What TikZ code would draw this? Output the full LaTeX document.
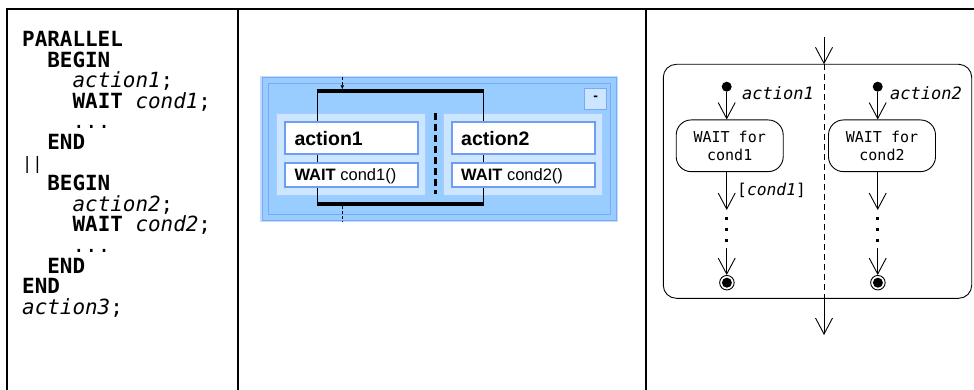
\documentclass[tikz,border=0pt]{standalone}
\usepackage{fontspec}
\setmainfont{DejaVu Sans Mono}
\newfontfamily\arialf{Liberation Sans}
\newfontfamily\monof{DejaVu Sans Mono}
\usetikzlibrary{arrows.meta}
\definecolor{pblue}{HTML}{99CCFF}
\definecolor{pline}{HTML}{7BA8F7}
\definecolor{pbox}{HTML}{6F9CF4}
\definecolor{plight}{HTML}{CCE6FF}
\definecolor{pouter}{HTML}{C0DCFF}
\definecolor{plane}{HTML}{A6CCFF}
\tikzset{
  code/.style={anchor=base west, inner sep=0pt, font=\fontsize{20.9}{21}\monof},
  frameline/.style={line width=2pt},
  whitebox/.style={draw=pbox, line width=2pt, fill=white},
  lanebox/.style={draw=plane, line width=1.2pt, fill=plight},
  bar/.style={line width=3.5pt},
  vee/.style={line width=0.9pt, -{Straight Barb[length=16pt,width=17pt,line width=0.9pt]}},
  flowline/.style={line width=0.9pt},
  state/.style={draw, line width=0.9pt, rounded corners=15pt, minimum width=107pt, minimum height=51.7pt, inner sep=0pt, align=center, font=\fontsize{15}{18}\monof},
  lbl/.style={anchor=base west, inner sep=0pt, font=\fontsize{17}{18}\monof\itshape},
  mtext/.style={anchor=base west, inner sep=0pt},
}
\begin{document}
\begin{tikzpicture}[x=1pt,y=-1pt]
\useasboundingbox (0,0) rectangle (974,390);
% table frame
\draw[frameline] (7,390) -- (7,9) -- (974,9);
\draw[frameline] (238,9) -- (238,390);
\draw[frameline] (646,9) -- (646,390);

% ---------- left panel: code ----------
\node[code] (l1)  at (22,46.5)  {\bfseries PARALLEL};
\node[code] (l2)  at (47.2,67.1)  {\bfseries BEGIN};
\node[code] (l3)  at (72.4,87.7)  {\itshape action1\upshape;};
\node[code] (l4)  at (72.4,108.3) {\bfseries WAIT\mdseries\ \itshape cond1\upshape;};
\node[code] (l5)  at (72.4,128.9) {...};
\node[code] (l6)  at (47.2,149.5) {\bfseries END};
\node[code] (l7)  at (22,170)   {\fontsize{17}{17}\selectfont||};
\node[code] (l8)  at (47.2,190.7) {\bfseries BEGIN};
\node[code] (l9)  at (72.4,211.3) {\itshape action2\upshape;};
\node[code] (l10) at (72.4,231.9) {\bfseries WAIT\mdseries\ \itshape cond2\upshape;};
\node[code] (l11) at (72.4,252.5) {...};
\node[code] (l12) at (47.2,273.1) {\bfseries END};
\node[code] (l13) at (22,293.7)   {\bfseries END};
\node[code] (l14) at (22,314.3)   {\itshape action3\upshape;};

% ---------- middle panel ----------
\fill[pouter] (260,76) rectangle (618,222);
\fill[pblue] (262,77.5) rectangle (616,220.5);
\draw[pline, line width=1pt] (262,77.5) rectangle (616,220.5);
\draw[pline, line width=1pt] (268.3,83.3) rectangle (610,214.5);
\node[draw=pline, line width=1pt, fill=plight, minimum width=21.7pt, minimum height=21.3pt, inner sep=0pt, font=\fontsize{14}{14}\arialf\bfseries] (btn) at (595.8,98.7) {-};

\node[lanebox, minimum width=149pt, minimum height=82pt, inner sep=0pt] (lane1) at (351.2,154.3) {};
\node[lanebox, minimum width=159.4pt, minimum height=82pt, inner sep=0pt] (lane2) at (523,154.3) {};

\coordinate (fk1) at (317,91);
\coordinate (fk2) at (483.7,91);
\coordinate (jn1) at (317,204);
\coordinate (jn2) at (483.7,204);
\draw[line width=1pt] (fk1) -- (jn1);
\draw[line width=1pt] (fk2) -- (jn2);
\draw[bar] (fk1) -- (fk2);
\draw[bar] (jn1) -- (jn2);

\coordinate (min) at (342.3,77);
\coordinate (mfk) at (342.3,89.3);
\coordinate (mjn) at (342.3,206);
\coordinate (mout) at (342.3,222);
\draw[line width=0.8pt, dash pattern=on 3pt off 2pt, -{Latex[length=4pt,width=4pt]}] (min) -- (mfk);
\draw[line width=0.8pt, dash pattern=on 3pt off 2pt] (mjn) -- (mout);

\node[whitebox, minimum width=132.7pt, minimum height=32.3pt, inner sep=0pt] (act1) at (351.3,137.8) {};
\node[whitebox, minimum width=132.7pt, minimum height=24.6pt, inner sep=0pt] (wt1) at (351.3,175) {};
\node[whitebox, minimum width=143.3pt, minimum height=32.3pt, inner sep=0pt] (act2) at (523.3,137.8) {};
\node[whitebox, minimum width=143.3pt, minimum height=24.6pt, inner sep=0pt] (wt2) at (523.3,175) {};

\node[mtext, font=\fontsize{19.5}{20}\arialf\bfseries] (tact1) at (294.3,145.5) {action1};
\node[mtext, font=\fontsize{19.5}{20}\arialf\bfseries] (tact2) at (461,145.5) {action2};
\node[mtext, font=\fontsize{16.5}{17}\arialf] (twt1) at (294.3,181) {\bfseries WAIT\mdseries\ cond1()};
\node[mtext, font=\fontsize{16.5}{17}\arialf] (twt2) at (461,181) {\bfseries WAIT\mdseries\ cond2()};

\coordinate (sepT) at (435,113.5);
\coordinate (sepB) at (435,194);
\draw[line width=3pt, dash pattern=on 7pt off 4pt] (sepT) -- (sepB);

% ---------- right panel ----------
\node[draw, line width=0.9pt, rounded corners=13pt, minimum width=308.4pt, minimum height=234pt, inner sep=0pt] (reg) at (817.5,181.3) {};
\coordinate (ptop) at (824,37.3);
\coordinate (pin) at (824,64.3);
\coordinate (pout) at (824,298.3);
\coordinate (pend) at (824,335);
\draw[vee] (ptop) -- (pin);
\draw[flowline, dash pattern=on 6pt off 4pt] (pin) -- (pout);
\draw[vee] (pout) -- (pend);

\node[circle, fill, inner sep=0pt, minimum size=10pt] (i1) at (726.7,86.7) {};
\node[circle, fill, inner sep=0pt, minimum size=10pt] (i2) at (877.7,86.7) {};
\node[lbl] (la1) at (742,100) {action1};
\node[lbl] (la2) at (890,100) {action2};

\node[state] (w1) at (729.7,145.8) {WAIT for\\cond1};
\node[state] (w2) at (882,145.8) {WAIT for\\cond2};

\draw[vee] (i1) -- (i1 |- w1.north);
\draw[vee] (i2) -- (i2 |- w2.north);

\coordinate (a1) at (726.7,210);
\coordinate (a2) at (877.7,210);
\draw[vee] (w1.south -| a1) -- (a1);
\draw[vee] (w2.south -| a2) -- (a2);
\node[anchor=base west, inner sep=0pt, font=\fontsize{16.3}{17}\monof] (g1) at (737,196) {[\itshape cond1\upshape]};

\foreach \yy in {218.5,229.5,240.5}{
  \fill (726.7-1.3,\yy-1.3) rectangle (726.7+1.3,\yy+1.3);
  \fill (877.7-1.3,\yy-1.3) rectangle (877.7+1.3,\yy+1.3);
}

\node[circle, draw, line width=0.9pt, inner sep=0pt, minimum size=14.5pt] (f1) at (726.9,282.7) {};
\node[circle, draw, line width=0.9pt, inner sep=0pt, minimum size=14.5pt] (f2) at (877.9,282.7) {};
\fill (f1) circle (5pt);
\fill (f2) circle (5pt);
\coordinate (b1) at (726.7,248);
\coordinate (b2) at (877.7,248);
\draw[vee] (b1) -- (f1.north -| b1);
\draw[vee] (b2) -- (f2.north -| b2);
\end{tikzpicture}
\end{document}
